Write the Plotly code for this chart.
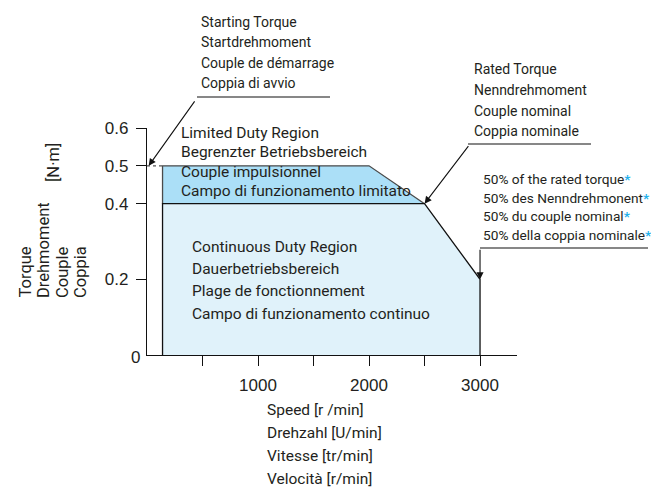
import plotly.graph_objects as go

# ---------------- data ----------------
speed_limited = [140, 140, 2000, 2500]
torque_limited = [0.4, 0.5, 0.5, 0.4]
speed_cont = [140, 140, 2500, 3000, 3000]
torque_cont = [0.0, 0.4, 0.4, 0.2, 0.0]
starting_torque = 0.5
rated_point = (2500, 0.4)
half_rated_point = (3000, 0.2)
x_tickvals = [500, 1000, 1500, 2000, 2500, 3000]
x_ticktext = ["", "1000", "", "2000", "", "3000"]
y_tickvals = [0.2, 0.4, 0.5, 0.6]
y_ticktext = ["0.2", "0.4", "0.5", "0.6"]

starting_lines = ["Starting Torque", "Startdrehmoment", "Couple de démarrage", "Coppia di avvio"]
rated_lines = ["Rated Torque", "Nenndrehmoment", "Couple nominal", "Coppia nominale"]
half_lines = ["50% of the rated torque", "50% des Nenndrehmonent", "50% du couple nominal",
              "50% della coppia nominale"]
limited_lines = ["Limited Duty Region", "Begrenzter Betriebsbereich", "Couple impulsionnel",
                 "Campo di funzionamento limitato"]
cont_lines = ["Continuous Duty Region", "Dauerbetriebsbereich", "Plage de fonctionnement",
              "Campo di funzionamento continuo"]
ylabel_lines = ["Torque", "Drehmoment", "Couple", "Coppia"]
yunit = "[N·m]"
xlabel_lines = ["Speed [r /min]", "Drehzahl [U/min]", "Vitesse [tr/min]", "Velocità [r/min]"]

# ---------------- layout geometry (page pixels) ----------------
W, H = 651, 488
PL, PR, PT, PB = 147, 517, 128, 355        # plot area edges in page pixels
ML, MT, MR, MB = PL, PT, W - PR, H - PB
PW, PH = PR - PL, PB - PT

def px(xp):
    return (xp - PL) / PW

def py(yp):
    return (PB - yp) / PH

FONT = "Roboto, Liberation Sans, Arial, sans-serif"
REG = "Liberation Sans, Arial, sans-serif"
TXT = "#231f20"
LIM_FILL = "#abdff7"
CONT_FILL = "#e0f2fa"
STAR = "#1fb1ec"

fig = go.Figure()
fig.add_trace(go.Scatter(x=speed_limited, y=torque_limited, fill="toself", fillcolor=LIM_FILL,
                         mode="lines", line=dict(color="#4a4a4a", width=1.3), hoverinfo="skip"))
fig.add_trace(go.Scatter(x=speed_cont, y=torque_cont, fill="toself", fillcolor=CONT_FILL,
                         mode="lines", line=dict(color="#111111", width=1.3), hoverinfo="skip"))
fig.add_trace(go.Scatter(x=[0, speed_limited[0]], y=[starting_torque, starting_torque],
                         mode="lines", line=dict(color="#555555", width=1.3, dash="dot"),
                         hoverinfo="skip"))

ann = []

def text_block(lines, x_px, y_list, size, family=FONT, suffix=""):
    for t, yy in zip(lines, y_list):
        ann.append(dict(text=t + suffix, x=px(x_px), y=py(yy), xref="paper", yref="paper",
                        xanchor="left", yanchor="middle", showarrow=False,
                        font=dict(family=family, size=size, color=TXT)))

text_block(starting_lines, 199, [22, 42, 63, 83], 14)
text_block(rated_lines, 472, [69, 90, 111, 131], 14)
text_block(half_lines, 481, [179, 198, 216, 235], 13.7,
           suffix="<span style='color:%s'><b>*</b></span>" % STAR)
text_block(limited_lines, 179, [133, 152, 172, 191], 15.5)
text_block(cont_lines, 190, [247, 269, 291, 314], 15.5)
text_block(xlabel_lines, 265, [410, 433, 456, 479], 15.5)

# y-axis title (rotated)
for t, xx in zip(ylabel_lines, [25, 43, 62, 80]):
    ann.append(dict(text=t, x=px(xx), y=py(300), xref="paper", yref="paper", textangle=-90,
                    xanchor="center", yanchor="bottom", showarrow=False,
                    font=dict(family=FONT, size=16.5, color=TXT)))
ann.append(dict(text=yunit, x=px(53), y=py(163), xref="paper", yref="paper", textangle=-90,
                xanchor="center", yanchor="middle", showarrow=False,
                font=dict(family=FONT, size=16.5, color=TXT)))
# "0" label of y axis
ann.append(dict(text="0", x=px(135), y=py(357), xref="paper", yref="paper",
                xanchor="center", yanchor="middle", showarrow=False,
                font=dict(family=REG, size=17, color=TXT)))

# arrows
arrow_style = dict(showarrow=True, arrowhead=2, arrowsize=1.3, arrowwidth=1.1,
                   arrowcolor="#111111", text="", xref="x", yref="y", axref="pixel", ayref="pixel")
ann.append(dict(x=15, y=starting_torque, ax=47, ay=-66, **arrow_style))
ann.append(dict(x=rated_point[0], y=rated_point[1], ax=45, ay=-59, **arrow_style))
ann.append(dict(x=half_rated_point[0], y=half_rated_point[1], ax=0, ay=-31, **arrow_style))

shapes = []
def hline(x0, x1, yy):
    shapes.append(dict(type="line", xref="paper", yref="paper", x0=px(x0), x1=px(x1),
                       y0=py(yy), y1=py(yy), line=dict(color="#111111", width=1.1)))
hline(197, 330, 97)
hline(468, 591, 144)
hline(480, 648, 248)

fig.update_layout(
    width=W, height=H, autosize=False,
    margin=dict(l=ML, r=MR, t=MT, b=MB, pad=0),
    paper_bgcolor="white", plot_bgcolor="white",
    showlegend=False,
    annotations=ann, shapes=shapes,
    xaxis=dict(range=[0, 3333], showgrid=False, zeroline=False, showline=True,
               linecolor="#111111", linewidth=1.3, ticks="outside", ticklen=10, tickwidth=1.3,
               tickcolor="#111111", tickvals=x_tickvals, ticktext=x_ticktext,
               ticklabelstandoff=4, tickfont=dict(family=REG, size=17, color=TXT)),
    yaxis=dict(range=[0, 0.6], showgrid=False, zeroline=False, showline=True,
               linecolor="#111111", linewidth=1.3, ticks="outside", ticklen=10, tickwidth=1.3,
               tickcolor="#111111", tickvals=y_tickvals, ticktext=y_ticktext,
               ticklabelstandoff=4, tickfont=dict(family=REG, size=17, color=TXT)),
)

fig.write_html("out.html", config={"displayModeBar": False},
               post_script="document.body.style.margin='0';document.body.style.overflow='hidden';")
